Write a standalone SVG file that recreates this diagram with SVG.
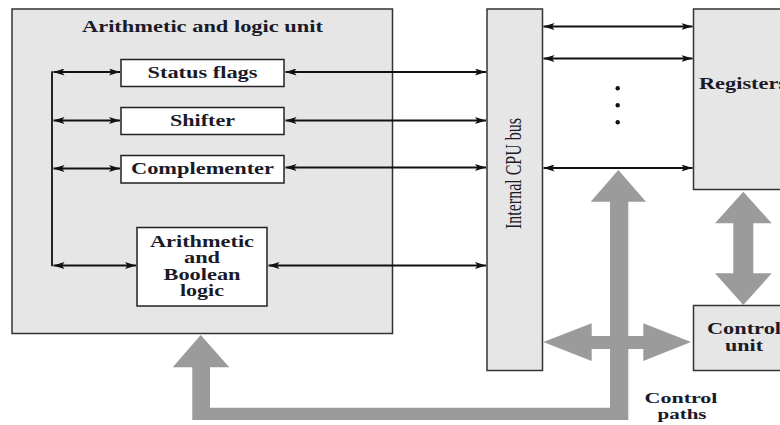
<svg xmlns="http://www.w3.org/2000/svg" width="780" height="425" viewBox="0 0 780 425">
<defs>
<style>
.panel{fill:#e6e6e6;stroke:#333;stroke-width:1.5}
.box{fill:#fff;stroke:#222;stroke-width:1.5}
.t{font-family:"Liberation Serif","Times New Roman",serif;font-size:16px;font-weight:bold;fill:#1a1a28;text-anchor:middle}
.tr{font-family:"Liberation Serif","Times New Roman",serif;font-size:16px;fill:#1a1a28;text-anchor:middle}
.ln{stroke:#111;stroke-width:1.8;fill:none;marker-start:url(#ah);marker-end:url(#ah)}
.wide{fill:#9b9b9b;stroke:none}
</style>
<marker id="ah" viewBox="0 0 11 7" refX="11" refY="3.5" markerWidth="11" markerHeight="7" markerUnits="userSpaceOnUse" orient="auto-start-reverse">
<path d="M0,0 L11,3.5 L0,7 L2.5,3.5 z" fill="#111"/>
</marker>
</defs>
<rect width="780" height="425" fill="#fff"/>

<g id="alu">
<rect class="panel" x="12" y="9" width="380.5" height="324.5"/>
<text class="t" x="202.5" y="32" textLength="241" lengthAdjust="spacingAndGlyphs">Arithmetic and logic unit</text>
</g>

<g id="status-flags">
<rect class="box" x="121" y="59.5" width="163" height="27"/>
<text class="t" x="202.5" y="77.5" textLength="110" lengthAdjust="spacingAndGlyphs">Status flags</text>
</g>

<g id="shifter">
<rect class="box" x="121" y="107.5" width="163" height="27"/>
<text class="t" x="202.5" y="126" textLength="65" lengthAdjust="spacingAndGlyphs">Shifter</text>
</g>

<g id="complementer">
<rect class="box" x="121" y="155.5" width="163" height="27.5"/>
<text class="t" x="202.5" y="174" textLength="143" lengthAdjust="spacingAndGlyphs">Complementer</text>
</g>

<g id="arith-logic">
<rect class="box" x="137" y="227.5" width="130" height="78.5"/>
<text class="t" x="202" y="246.5" textLength="104" lengthAdjust="spacingAndGlyphs">Arithmetic</text>
<text class="t" x="202" y="263" textLength="36" lengthAdjust="spacingAndGlyphs">and</text>
<text class="t" x="202" y="280" textLength="77" lengthAdjust="spacingAndGlyphs">Boolean</text>
<text class="t" x="202" y="295.5" textLength="44" lengthAdjust="spacingAndGlyphs">logic</text>
</g>

<g id="bus">
<rect class="panel" x="487" y="9" width="55.5" height="361.5"/>
<text class="tr" transform="translate(521,173.5) scale(1.4,1) rotate(-90)">Internal CPU bus</text>
</g>

<g id="registers">
<rect class="panel" x="693.5" y="9" width="100" height="180.5"/>
<text class="t" x="699" y="89" style="text-anchor:start" textLength="88" lengthAdjust="spacingAndGlyphs">Registers</text>
</g>

<g id="control-unit">
<rect class="panel" x="693.5" y="305.5" width="100" height="65"/>
<text class="t" x="744" y="334" textLength="74" lengthAdjust="spacingAndGlyphs">Control</text>
<text class="t" x="744" y="351" textLength="38" lengthAdjust="spacingAndGlyphs">unit</text>
</g>

<g id="control-paths-label">
<text class="t" x="681" y="402.5" style="font-size:14px" textLength="73" lengthAdjust="spacingAndGlyphs">Control</text>
<text class="t" x="682" y="419" style="font-size:14px" textLength="49" lengthAdjust="spacingAndGlyphs">paths</text>
</g>

<g id="connectors">
<!-- ALU internal left bus -->
<line x1="52" y1="71.2" x2="52" y2="266.3" stroke="#111" stroke-width="1.8"/>
<line class="ln" x1="53.5" y1="72" x2="120" y2="72"/>
<line class="ln" x1="53.5" y1="120.5" x2="120" y2="120.5"/>
<line class="ln" x1="53.5" y1="168.5" x2="120" y2="168.5"/>
<line class="ln" x1="53.5" y1="265.5" x2="136" y2="265.5"/>
<!-- ALU to internal bus -->
<line class="ln" x1="285.5" y1="72" x2="486" y2="72"/>
<line class="ln" x1="285.5" y1="120.5" x2="486" y2="120.5"/>
<line class="ln" x1="285.5" y1="167.5" x2="486" y2="167.5"/>
<line class="ln" x1="268.5" y1="265.5" x2="486" y2="265.5"/>
<!-- internal bus to registers -->
<line class="ln" x1="543.5" y1="26.5" x2="692.5" y2="26.5"/>
<line class="ln" x1="543.5" y1="58.5" x2="692.5" y2="58.5"/>
<line class="ln" x1="543.5" y1="168" x2="692.5" y2="168"/>
<circle cx="617.7" cy="88.3" r="2.2" fill="#111"/>
<circle cx="617.7" cy="105.3" r="2.2" fill="#111"/>
<circle cx="617.7" cy="122.3" r="2.2" fill="#111"/>
<!-- control paths -->
<polygon class="wide" points="618.3,170 646,201.7 628.3,201.7 628.3,420 192.3,420 192.3,367.3 172.7,367.3 200.7,335 229.3,367.3 210,367.3 210,407.7 610,407.7 610,201.7 590.7,201.7"/>
<polygon class="wide" points="543.3,342 591.7,323.3 591.7,336 643.3,336 643.3,323.3 691,342 643.3,361 643.3,349 591.7,349 591.7,361"/>
<polygon class="wide" points="743.3,191.7 771.7,223.3 753.3,223.3 753.3,273.3 771.7,273.3 743.3,305 715,273.3 733.3,273.3 733.3,223.3 715,223.3"/>
</g>
</svg>
